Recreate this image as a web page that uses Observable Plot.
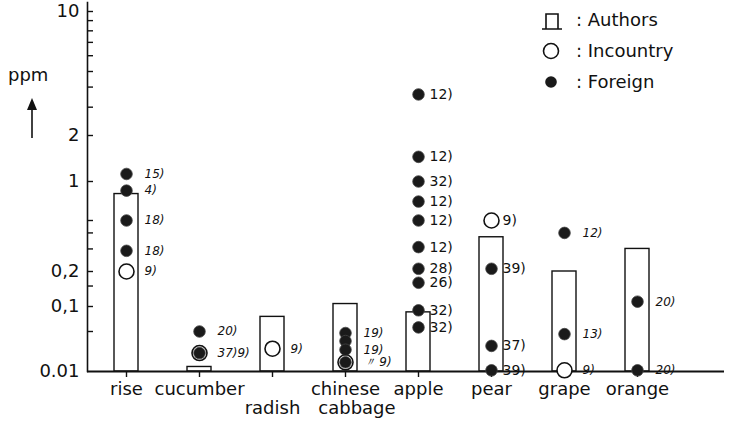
<!DOCTYPE html>
<html><head><meta charset="utf-8">
<script src="https://cdn.jsdelivr.net/npm/d3@7"></script>
<script src="https://cdn.jsdelivr.net/npm/@observablehq/plot@0.6"></script>
<style>
body{margin:0;background:#fff;font-family:"DejaVu Sans",sans-serif;}
#wrap{position:relative;width:732px;height:426px;overflow:hidden;}
.legend{position:absolute;left:540px;top:4px;font-size:18px;color:#111;}
.legend div{height:31px;display:flex;align-items:center;}
.legend svg{width:24px;height:22px;margin-right:12px;}
.ppm{position:absolute;left:8px;top:64px;font-size:18px;color:#111;}
.arrow{position:absolute;left:24px;top:96px;}
</style></head><body><div id="wrap"></div>
<script>
const categories = ["rise","cucumber","radish","chinese cabbage","apple","pear","grape","orange"];
const categoryLabels = ["rise","cucumber","\nradish","chinese\n\u00a0\u00a0\u00a0\u00a0cabbage","apple","pear","grape","orange"];
const authors = [0.8, 0.012, 0.075, 0.105, 0.085, 0.37, 0.2, 0.3];

const foreignCat = ["rise","rise","rise","rise","cucumber","cucumber","chinese cabbage","chinese cabbage","chinese cabbage","chinese cabbage",
  "apple","apple","apple","apple","apple","apple","apple","apple","apple","apple","pear","pear","pear","grape","grape","orange","orange"];
const foreignVal = [1.12, 0.85, 0.5, 0.29, 0.05, 0.021, 0.047, 0.034, 0.024, 0.0145,
  3.6, 1.45, 1.0, 0.7, 0.5, 0.31, 0.21, 0.16, 0.09, 0.056, 0.21, 0.028, 0.0105, 0.4, 0.045, 0.11, 0.0105];
const foreignRef = ["15)","4)","18)","18)","20)","37)9)","19)","","19)","",
  "12)","12)","32)","12)","12)","12)","28)","26)","32)","32)","39)","37)","39)","12)","13)","20)","20)"];

const incountryCat = ["rise","cucumber","radish","chinese cabbage","pear","grape"];
const incountryVal = [0.2, 0.021, 0.025, 0.0145, 0.5, 0.0105];
const incountryRef = ["9)","","9)","〃 9)","9)","9)"];

const yTicks = [0.01, 0.05, 0.1, 0.2, 0.5, 1, 2, 5, 10];
const yTickLabels = ["0.01","0,05","0,1","0,2","0,5","1","2","5","10"];
const yMinorTicks = [0.15, 0.3, 0.4, 3, 4, 6, 7, 8, 9];

const bars = categories.map((c, i) => ({cat: c, value: authors[i]}));
const foreign = foreignCat.map((c, i) => ({cat: c, value: foreignVal[i], ref: foreignRef[i]}));
const incountry = incountryCat.map((c, i) => ({cat: c, value: incountryVal[i], ref: incountryRef[i]}));
const labelMap = new Map(categories.map((c, i) => [c, categoryLabels[i]]));
const yLabelMap = new Map(yTicks.map((t, i) => [t, yTickLabels[i]]));
const handwritten = new Set(["rise","radish","chinese cabbage","grape","orange","cucumber"]);
const allPts = [...foreign, ...incountry].filter(d => d.ref !== "");

const W = 732, ML = 87, MR = 8;
const ink = "#111";
const chart = Plot.plot({
  width: W, height: 426,
  marginLeft: ML, marginRight: MR, marginTop: 2, marginBottom: 55,
  style: {fontFamily: "DejaVu Sans, sans-serif", color: ink, background: "white"},
  x: {type: "band", domain: categories, range: [87, 675], paddingInner: 0.673, paddingOuter: 0.338, axis: null},
  y: {type: "log", domain: yTicks, range: [371, 331, 306, 271, 220, 181, 135, 71, 11], axis: null},
  marks: [
    Plot.barY(bars, {x: "cat", y1: 0.01, y2: "value", fill: "white", stroke: ink, strokeWidth: 1.4}),
    Plot.frame({anchor: "left", stroke: ink, strokeWidth: 1.6}),
    Plot.ruleY([0.01], {stroke: ink, strokeWidth: 1.8}),
    Plot.tickY([...yTicks, ...yMinorTicks].filter(t => t !== 0.01), {y: d => d, insetRight: W - ML - MR - 6, stroke: ink, strokeWidth: 1.4}),
    Plot.axisY({ticks: yTicks, tickSize: 0, tickPadding: 8, tickFormat: d => yLabelMap.get(d), fontSize: 18, label: null}),
    Plot.axisX({tickSize: 6, tickPadding: 3, tickFormat: d => labelMap.get(d), fontSize: 18, label: null, lineHeight: 1.1, strokeWidth: 1.4}),
    Plot.dot(incountry, {x: "cat", y: "value", r: 7.5, fill: "white", stroke: ink, strokeWidth: 1.6}),
    Plot.dot(foreign, {x: "cat", y: "value", r: 5.8, fill: "#1a1a1a", stroke: "#444", strokeWidth: 0.8}),
    Plot.text(allPts.filter(d => !handwritten.has(d.cat)), {x: "cat", y: "value", text: "ref", dx: 11, textAnchor: "start", fontSize: 14, fill: ink}),
    Plot.text(allPts.filter(d => handwritten.has(d.cat)), {x: "cat", y: "value", text: "ref", textAnchor: "start", fontSize: 12, fontStyle: "italic", fill: ink, dx: 18})
  ]
});
const wrap = document.getElementById("wrap");
wrap.appendChild(chart);

const legend = document.createElement("div");
legend.className = "legend";
legend.innerHTML = `
<div><svg viewBox="0 0 24 22"><path d="M2 20 H22 M6 20 V5 H18 V20" fill="none" stroke="${ink}" stroke-width="1.6"/></svg>: Authors</div>
<div><svg viewBox="0 0 24 22"><circle cx="11" cy="11" r="7.5" fill="none" stroke="${ink}" stroke-width="1.6"/></svg>: Incountry</div>
<div><svg viewBox="0 0 24 22"><circle cx="11" cy="11" r="5.8" fill="#1a1a1a"/></svg>: Foreign</div>`;
wrap.appendChild(legend);

const ppm = document.createElement("div");
ppm.className = "ppm"; ppm.textContent = "ppm";
wrap.appendChild(ppm);
const arrow = document.createElement("div");
arrow.className = "arrow";
arrow.innerHTML = `<svg width="16" height="44"><path d="M8 42 V6" stroke="${ink}" stroke-width="1.6"/><path d="M3 14 L8 2 L13 14 Z" fill="${ink}"/></svg>`;
wrap.appendChild(arrow);
</script></body></html>
